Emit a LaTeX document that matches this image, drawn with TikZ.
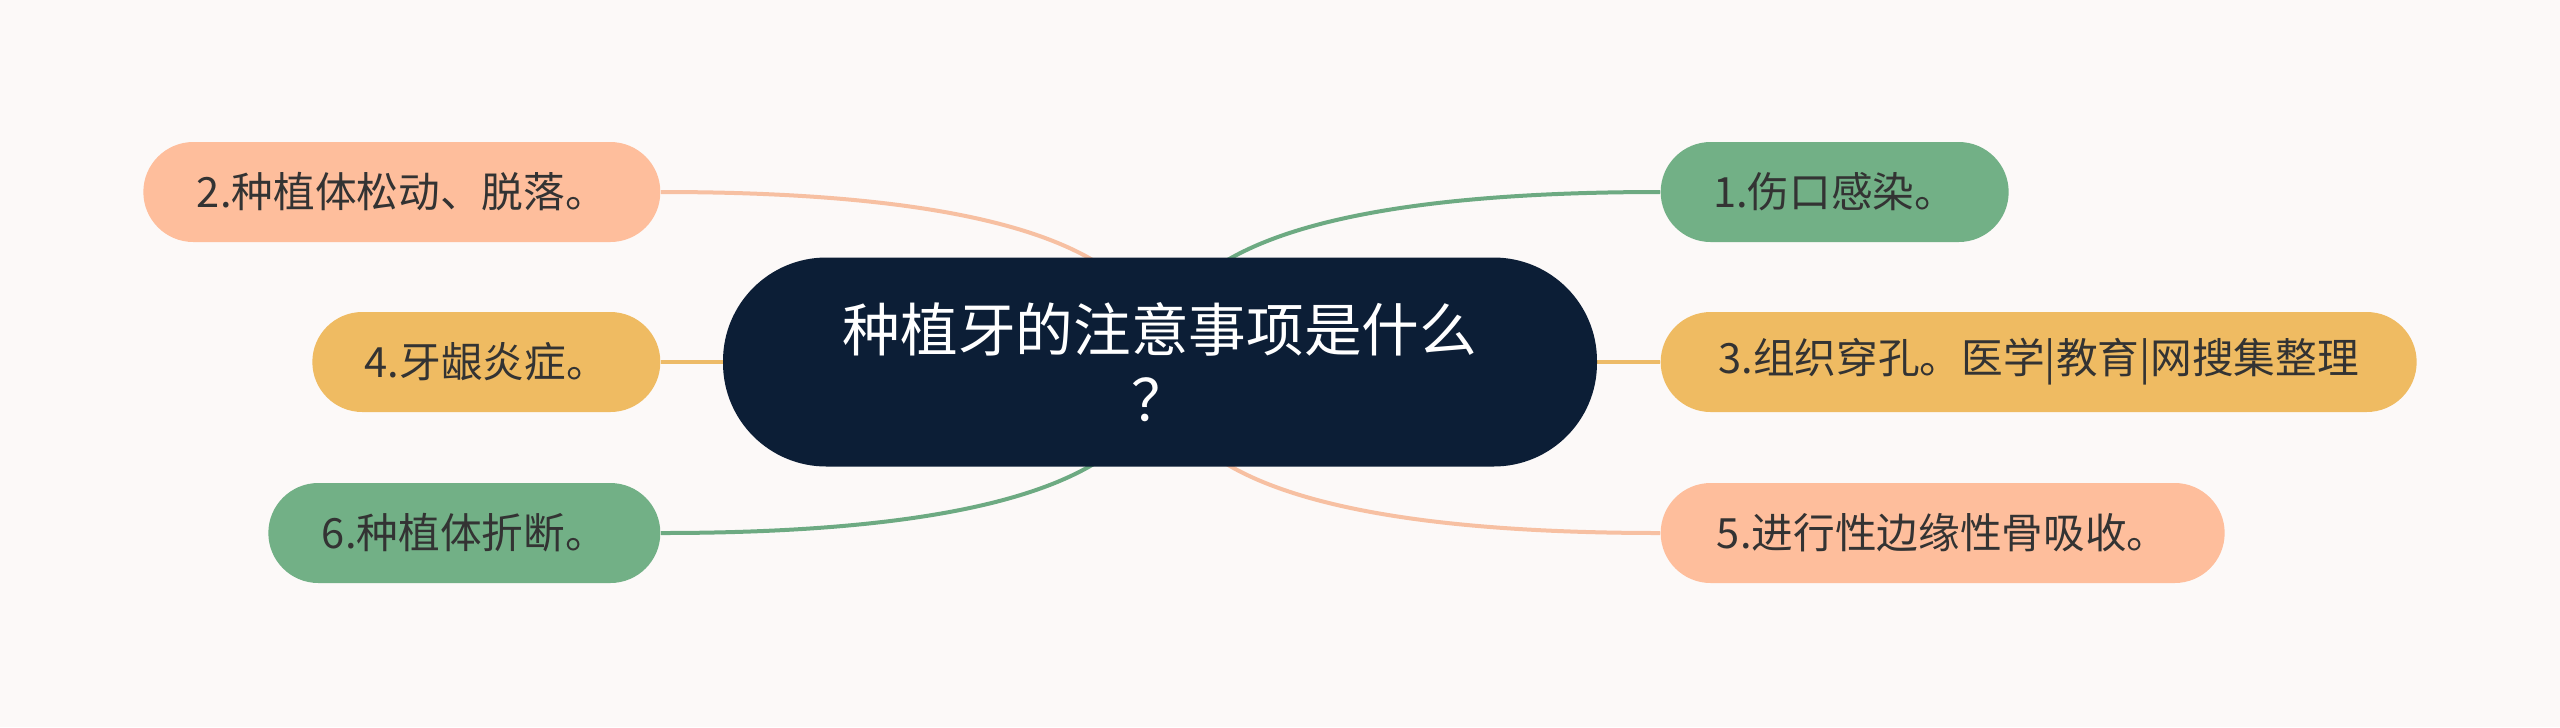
\documentclass[tikz,border=0pt]{standalone}
\usepackage{fontspec}
\setmainfont{Noto Sans CJK SC}
\usetikzlibrary{calc}
\definecolor{bgc}{HTML}{FCF9F8}
\definecolor{navy}{HTML}{0C1E36}
\definecolor{peach}{HTML}{FEBE9C}
\definecolor{peachline}{HTML}{F7C0A2}
\definecolor{leaf}{HTML}{72B086}
\definecolor{leafline}{HTML}{6DAA82}
\definecolor{gold}{HTML}{EFBB62}
\definecolor{goldline}{HTML}{EDBB68}
\definecolor{txt}{HTML}{333333}
\pgfdeclarelayer{bglayer}
\pgfdeclarelayer{linklayer}
\pgfsetlayers{bglayer,linklayer,main}
\begin{document}
\begin{tikzpicture}[x=0.3pt,y=-0.3pt,
  leafbox/.style={rounded corners=15pt, minimum height=30pt, inner sep=0pt,
    font=\fontsize{12.5pt}{14pt}\selectfont, text=txt},
  link/.style={line width=1.2pt},
  rootbox/.style={fill=navy, rounded corners=31pt, minimum width=262.2pt,
    minimum height=62.7pt, inner sep=0pt, text=white, align=center,
    font=\fontsize{17.3pt}{21pt}\selectfont}]
\begin{pgfonlayer}{bglayer}
\fill[bgc] (0,0) rectangle (2560,727);
\end{pgfonlayer}
\useasboundingbox (0,0) rectangle (2560,727);

\node[rootbox] (root) at (1160,362) {种植牙的注意事项是什么\\？};

\node[leafbox, fill=peach, anchor=east, minimum width=155.1pt] (n2) at (661,192) {2.种植体松动、脱落。};
\node[leafbox, fill=gold, anchor=east, minimum width=104.4pt] (n4) at (661,362) {4.牙龈炎症。};
\node[leafbox, fill=leaf, anchor=east, minimum width=117.6pt] (n6) at (661,533) {6.种植体折断。};
\node[leafbox, fill=leaf, anchor=west, minimum width=104.4pt] (n1) at (1660,192) {1.伤口感染。};
\node[leafbox, fill=gold, anchor=west, minimum width=226.8pt] (n3) at (1660,362) {3.组织穿孔。医学|教育|网搜集整理};
\node[leafbox, fill=peach, anchor=west, minimum width=169.2pt] (n5) at (1660,533) {5.进行性边缘性骨吸收。};

\begin{pgfonlayer}{linklayer}
\draw[link, peachline] (root.center) .. controls ($(root.center)!0.6667!(root.center|-n2.east)$) and ($(n2.east)!0.6667!(root.center|-n2.east)$) .. (n2.east);
\draw[link, leafline] (root.center) .. controls ($(root.center)!0.6667!(root.center|-n6.east)$) and ($(n6.east)!0.6667!(root.center|-n6.east)$) .. (n6.east);
\draw[link, leafline] (root.center) .. controls ($(root.center)!0.6667!(root.center|-n1.west)$) and ($(n1.west)!0.6667!(root.center|-n1.west)$) .. (n1.west);
\draw[link, peachline] (root.center) .. controls ($(root.center)!0.6667!(root.center|-n5.west)$) and ($(n5.west)!0.6667!(root.center|-n5.west)$) .. (n5.west);
\draw[link, goldline] (root.center) -- (n4.east);
\draw[link, goldline] (root.center) -- (n3.west);
\end{pgfonlayer}
\end{tikzpicture}
\end{document}
